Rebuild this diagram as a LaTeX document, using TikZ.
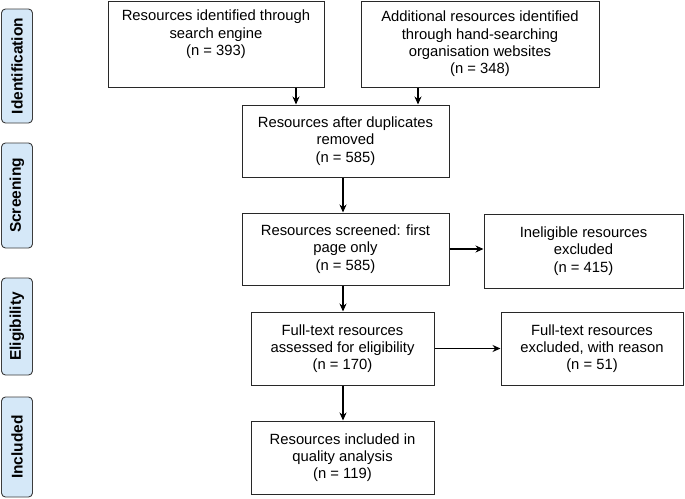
\documentclass[tikz,border=0pt]{standalone}
\usepackage{fontspec}
\setmainfont{Liberation Sans}
\usetikzlibrary{arrows.meta}
\definecolor{stagefill}{RGB}{213,232,248}
\definecolor{stageline}{RGB}{60,60,60}
\definecolor{boxline}{RGB}{40,40,40}
\begin{document}
\begin{tikzpicture}[x=1pt,y=-1pt,
  box/.style={draw=boxline, line width=1pt, align=center, inner sep=0pt,
    font=\fontsize{14.8}{17.3}\selectfont},
  stage/.style={draw=stageline, fill=stagefill, line width=0.9pt, rounded corners=4pt,
    rotate=90, minimum height=31pt, inner sep=0pt,
    font=\fontsize{15.5}{18}\selectfont\bfseries},
  arr/.style={line width=1.2pt, -{Stealth[length=8pt,width=7pt]}}]
\useasboundingbox (0,0) rectangle (685,498);

% stage labels
\node[stage, minimum width=114pt] (s1) at (17,66) {Identification};
\node[stage, minimum width=105pt] (s2) at (17,195.5) {Screening};
\node[stage, minimum width=97pt] (s3) at (17,326.5) {Eligibility};
\node[stage, minimum width=100pt] (s4) at (17,447) {Included};

% boxes
\node[box, minimum width=216pt, minimum height=86pt] (b1) at (216,44)
  {Resources identified through\\search engine\\(n = 393)\\\strut};
\node[box, minimum width=238pt, minimum height=86pt] (b2) at (480,44)
  {Additional resources identified\\through hand-searching\\organisation websites\\(n = 348)};
\node[box, minimum width=207pt, minimum height=72pt] (b3) at (345.5,141)
  {Resources after duplicates\\removed\\(n = 585)};
\node[box, minimum width=207pt, minimum height=72pt] (b4) at (345.5,249)
  {Resources screened: first\\page only\\(n = 585)};
\node[box, minimum width=199pt, minimum height=74pt] (b5) at (583.5,251)
  {Ineligible resources\\excluded\\(n = 415)};
\node[box, minimum width=183pt, minimum height=73pt] (b6) at (342.5,348.5)
  {Full-text resources\\assessed for eligibility\\(n = 170)};
\node[box, minimum width=182pt, minimum height=73pt] (b7) at (592,348.5)
  {Full-text resources\\excluded, with reason\\(n = 51)};
\node[box, minimum width=183pt, minimum height=73pt] (b8) at (342.5,457.5)
  {Resources included in\\quality analysis\\(n = 119)};

% connectors
\coordinate (c1) at (296,0);
\coordinate (c2) at (418,0);
\coordinate (c3) at (343,0);
\draw[arr] (b1.south -| c1) -- (b3.north -| c1);
\draw[arr] (b2.south -| c2) -- (b3.north -| c2);
\draw[arr] (b3.south -| c3) -- (b4.north -| c3);
\draw[arr] (b4.south -| c3) -- (b6.north -| c3);
\draw[arr] (b6.south -| c3) -- (b8.north -| c3);
\draw[arr] (b4.east) -- (b4.east -| b5.west);
\draw[arr] (b6.east) -- (b6.east -| b7.west);
\end{tikzpicture}
\end{document}
